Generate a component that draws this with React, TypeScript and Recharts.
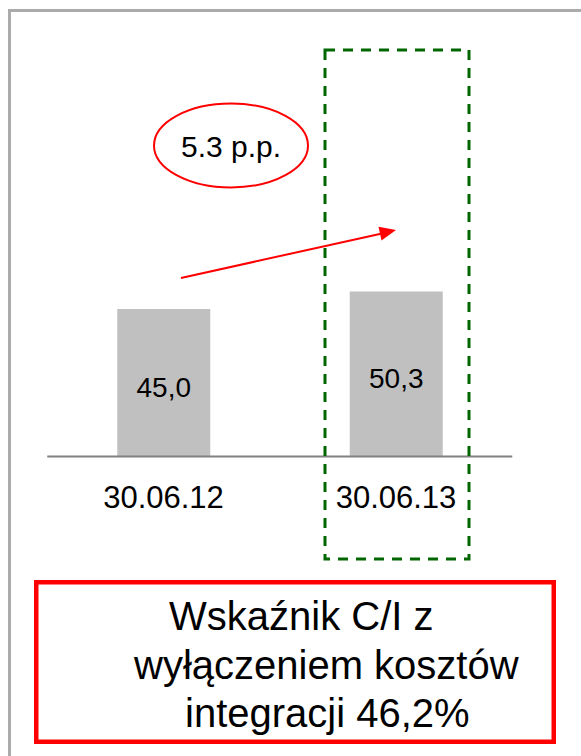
import React from "react";
import { BarChart, Bar, XAxis, YAxis, LabelList } from "recharts";

const periods = ["30.06.12", "30.06.13"];
const ciRatio = [45.0, 50.3];
const changeLabel = "5.3 p.p.";
const noteLines = ["Wskaźnik C/I z", "wyłączeniem kosztów", "integracji 46,2%"];

const data = periods.map((period, i) => ({ period, value: ciRatio[i] }));

const FONT = "'Liberation Sans', Arial, sans-serif";

const PeriodTick = (props: any) => {
  const { x, y, payload } = props;
  return (
    <text x={x} y={y + 51.5} textAnchor="middle" fontSize={31} fontFamily={FONT} fill="#000">
      {payload.value}
    </text>
  );
};

const ValueLabel = (props: any) => {
  const { x, y, width, height, value } = props;
  return (
    <text
      x={x + width / 2}
      y={y + height / 2 + 13.8}
      textAnchor="middle"
      fontSize={28}
      fontFamily={FONT}
      fill="#000"
    >
      {Number(value).toFixed(1).replace(".", ",")}
    </text>
  );
};

export default function App() {
  return (
    <div
      style={{
        position: "fixed",
        left: 0,
        top: 0,
        width: 581,
        height: 756,
        overflow: "hidden",
        background: "#fff",
      }}
    >
      {/* frame, cut off at right and bottom like the source slide */}
      <div
        style={{
          position: "absolute",
          left: 8,
          top: 9,
          width: 640,
          height: 820,
          borderTop: "3px solid #ababab",
          borderLeft: "3px solid #ababab",
        }}
      />
      <div style={{ position: "absolute", left: 0, top: 0 }}>
        <BarChart
          width={581}
          height={756}
          data={data}
          margin={{ top: 128.7, right: 68.75, bottom: 269.5, left: 47.25 }}
          barCategoryGap="30%"
        >
          <XAxis
            dataKey="period"
            height={30}
            axisLine={{ stroke: "#808080", strokeWidth: 2 }}
            tickLine={false}
            tickSize={0}
            tickMargin={0}
            tick={<PeriodTick />}
            interval={0}
          />
          <YAxis hide domain={[0, 100]} />
          <Bar dataKey="value" fill="#c0c0c0" barSize={93} isAnimationActive={false}>
            <LabelList dataKey="value" content={<ValueLabel />} />
          </Bar>
        </BarChart>
      </div>
      <svg
        width={581}
        height={756}
        style={{ position: "absolute", left: 0, top: 0, pointerEvents: "none" }}
      >
        <rect
          x={325}
          y={50}
          width={144}
          height={509}
          fill="none"
          stroke="#006600"
          strokeWidth={3}
          strokeDasharray="10 8"
        />
        <ellipse cx={231} cy={145.5} rx={77} ry={42} fill="#fff" stroke="#ff0000" strokeWidth={2} />
        <text x={231} y={156.5} textAnchor="middle" fontSize={30} fontFamily={FONT} fill="#000">
          {changeLabel}
        </text>
        <line x1={181} y1={278} x2={382} y2={233.4} stroke="#ff0000" strokeWidth={2} />
        <polygon points="396,230 381.5,240.4 378.5,226.8" fill="#ff0000" />
        <rect x={36.25} y={582.25} width={517.5} height={159.5} fill="#fff" stroke="#ff0000" strokeWidth={4.5} />
        {noteLines.map((line, i) => (
          <text
            key={line}
            x={[169, 134, 185][i]}
            y={630 + i * 48.5}
            fontSize={40}
            fontFamily={FONT}
            fill="#000"
          >
            {line}
          </text>
        ))}
      </svg>
    </div>
  );
}
